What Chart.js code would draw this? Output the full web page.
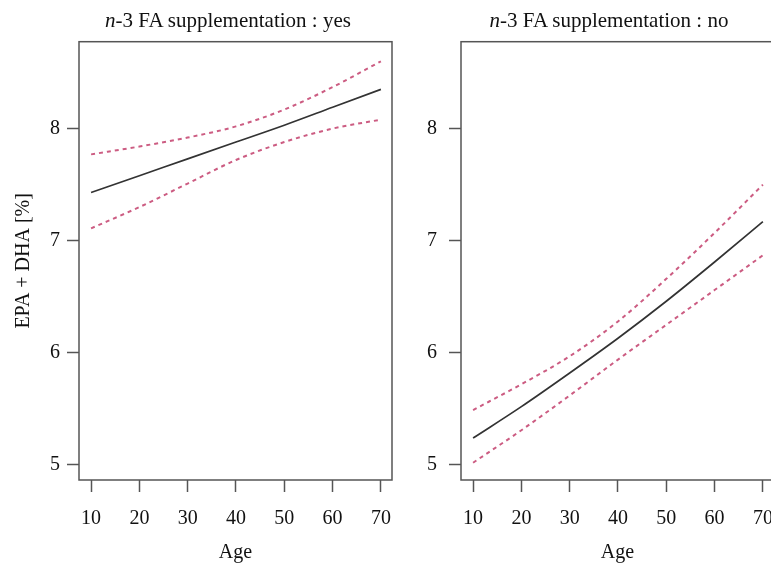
<!DOCTYPE html>
<html lang="en">
<head>
<meta charset="UTF-8"/>
<title>EPA + DHA by age</title>
<script src="https://cdn.jsdelivr.net/npm/chart.js@4.4.0/dist/chart.umd.min.js"></script>
<style>
  html, body { margin:0; padding:0; background:#fff; overflow:hidden; width:771px; height:565px; }
  .strip { position:absolute; top:8px; font-family:"Liberation Serif", "DejaVu Serif", serif; font-size:21px; color:#111; white-space:nowrap; transform:translateX(-50%); line-height:24px; }
  #c1 { position:absolute; left:0; top:0; }
  #c2 { position:absolute; left:400px; top:0; }
</style>
</head>
<body>
<canvas id="c1" width="420" height="565"></canvas>
<canvas id="c2" width="400" height="565"></canvas>
<div class="strip" style="left:228px"><i>n</i>-3 FA supplementation : yes</div>
<div class="strip" style="left:609px"><i>n</i>-3 FA supplementation : no</div>
<script>
const ages = [10, 20, 30, 40, 50, 60, 70];
// supplementation : yes
const yesFit   = [7.43, 7.58, 7.73, 7.88, 8.03, 8.19, 8.35];
const yesUpper = [7.77, 7.84, 7.92, 8.02, 8.17, 8.37, 8.60];
const yesLower = [7.11, 7.30, 7.51, 7.72, 7.88, 8.00, 8.08];
// supplementation : no
const noFit   = [5.24, 5.52, 5.82, 6.13, 6.46, 6.81, 7.17];
const noUpper = [5.49, 5.72, 5.97, 6.28, 6.66, 7.07, 7.50];
const noLower = [5.02, 5.31, 5.62, 5.94, 6.25, 6.56, 6.87];
const xTicks = [10, 20, 30, 40, 50, 60, 70];
const yTicks = [5, 6, 7, 8];

const serif = "'Liberation Serif', 'DejaVu Serif', serif";
const axisCol = '#555';
const bandCol = '#cc5c82';

const boxPlugin = {
  id: 'box',
  afterDraw(chart) {
    const a = chart.chartArea, ctx = chart.ctx;
    ctx.save();
    ctx.strokeStyle = axisCol;
    ctx.lineWidth = 1.5;
    ctx.strokeRect(a.left, a.top, a.right - a.left, a.bottom - a.top);
    ctx.restore();
  }
};

function pts(ys) {
  return ages.map((a, i) => ({x: a, y: ys[i]}));
}

function makeChart(id, fit, upper, lower, yWidth, rightPad, yTitle, yPad) {
  const line = (data, col, dash, w) => ({
    data: pts(data), borderColor: col, borderWidth: w, borderDash: dash,
    pointRadius: 0, fill: false, cubicInterpolationMode: 'monotone'
  });
  return new Chart(document.getElementById(id), {
    type: 'line',
    data: {
      datasets: [
        line(upper, bandCol, [4, 4], 2),
        line(lower, bandCol, [4, 4], 2),
        line(fit, '#333', [], 1.7)
      ]
    },
    options: {
      responsive: false,
      animation: false,
      layout: { padding: { top: 41.7, right: rightPad, bottom: 0, left: 0 } },
      plugins: { legend: { display: false }, tooltip: { enabled: false } },
      scales: {
        x: {
          type: 'linear', min: 7.5, max: 72.3,
          afterBuildTicks: s => { s.ticks = xTicks.map(v => ({value: v})); },
          afterFit: s => { s.height = 85; },
          grid: { drawOnChartArea: false, color: axisCol, tickLength: 12, tickWidth: 1.5 },
          border: { display: false },
          ticks: { color: '#111', font: { family: serif, size: 20 }, padding: 15, maxRotation: 0 },
          title: { display: true, text: 'Age', color: '#111', font: { family: serif, size: 20 }, padding: { top: 0, bottom: 0 } }
        },
        y: {
          type: 'linear', min: 4.866, max: 8.775,
          afterBuildTicks: s => { s.ticks = yTicks.map(v => ({value: v})); },
          afterFit: s => { s.width = yWidth; },
          grid: { drawOnChartArea: false, color: axisCol, tickLength: 12, tickWidth: 1.5 },
          border: { display: false },
          ticks: { color: '#111', font: { family: serif, size: 20 }, padding: yPad },
          title: { display: !!yTitle, text: yTitle, color: '#111', font: { family: serif, size: 20 }, padding: { top: 12, bottom: 0 } }
        }
      }
    },
    plugins: [boxPlugin]
  });
}

makeChart('c1', yesFit, yesUpper, yesLower, 79, 28, 'EPA + DHA [%]', 7);
makeChart('c2', noFit, noUpper, noLower, 61, 26, '', 12);
</script>
</body>
</html>
